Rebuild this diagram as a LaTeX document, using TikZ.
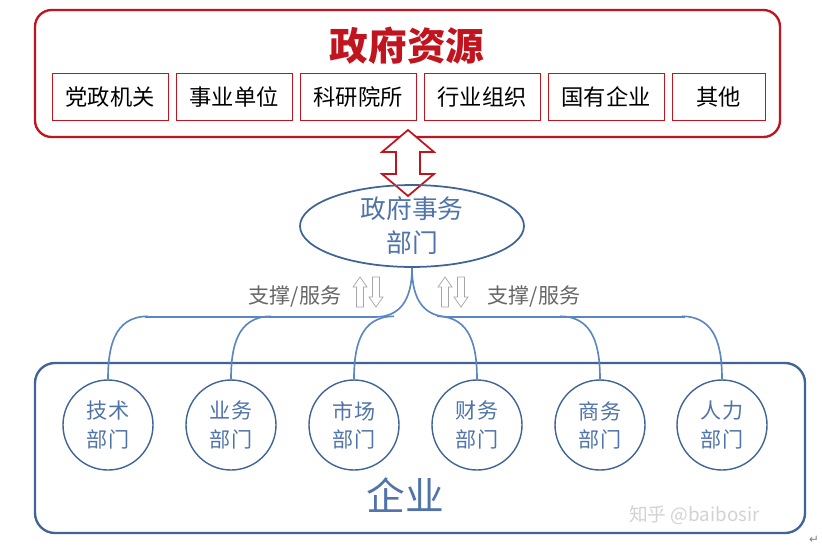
\documentclass[tikz,border=0pt]{standalone}
\usepackage{fontspec}
\setmainfont{Noto Sans CJK SC}
\newfontfamily\djv{DejaVu Sans}
\usetikzlibrary{shapes.geometric,calc}
\definecolor{rred}{RGB}{192,20,30}
\definecolor{dblue}{RGB}{65,100,150}
\definecolor{tblue}{RGB}{80,115,170}
\definecolor{lblue}{RGB}{90,135,195}
\begin{document}
\begin{tikzpicture}[x=0.03cm,y=-0.03cm,
  sbox/.style={draw=rred,line width=0.8pt,minimum height=1.4cm,inner sep=0pt,font=\fontsize{19}{19}\selectfont},
  circ/.style={circle,draw=dblue,line width=1.2pt,minimum size=2.7cm,inner sep=0pt,text=tblue,align=center,font=\fontsize{18}{24}\selectfont},
  br/.style={draw=lblue,line width=1.4pt},
  harrow/.style={draw=gray!70,line width=0.6pt,fill=white}]
\useasboundingbox (0,0) rectangle (822,549);
\draw[rred,line width=2pt,rounded corners=0.5cm] (35,10) rectangle (780,137);
\node (title) at (407,46) {\textcolor{rred}{\fontsize{33}{33}\selectfont\bfseries 政府资源}};
\foreach \n/\x/\w/\t in {b1/110/116/党政机关,b2/234/116/事业单位,b3/358/116/科研院所,b4/482/116/行业组织,b5/606/116/国有企业,b6/718.5/93/其他}
  \node[sbox,minimum width=\w*0.03cm] (\n) at (\x,97) {\t};
% big double arrow
\draw[rred,line width=1.5pt,fill=white] (408,130) -- (434,152) -- (420,152) -- (420,174) -- (434,174) -- (408,196) -- (382,174) -- (396,174) -- (396,152) -- (382,152) -- cycle;
\node[ellipse,draw=dblue,line width=1.5pt,minimum width=224*0.03cm,minimum height=80*0.03cm,align=center,text=tblue,font=\fontsize{22}{29}\selectfont,inner sep=0pt] (gov) at (412,226) {政府事务\\部门};
% bottom box
\draw[dblue,line width=2pt,rounded corners=0.6cm] (35,363) rectangle (805,533);
\node[text=tblue,font=\fontsize{33}{33}\selectfont] (ent) at (405,495) {企业};
\foreach \n/\x/\a/\b in {c1/108/技术/部门,c2/231/业务/部门,c3/354/市场/部门,c4/477/财务/部门,c5/600/商务/部门,c6/722/人力/部门}
  \node[circ] (\n) at (\x,425) {\a\\\b};
% connectors
\coordinate (hl) at (375,317); \coordinate (hr) at (450,317);
\draw[br] (gov.south) .. controls (412,300) and (400,317) .. (hl);
\draw[br] (gov.south) .. controls (412,300) and (424,317) .. (hr);
\draw[br] (145,317) -- (hl); \draw[br] (hr) -- (685,317);
\foreach \c/\s in {c1/1,c2/1,c3/1,c4/-1,c5/-1,c6/-1}{
  \draw[br] (\c.north) .. controls ($(\c.north)+(0,-30)$) and ($(\c.north)+(\s*5,-63)$) .. ($(\c.north)+(\s*40,-63)$);}
% small arrows
\foreach \x in {360,445}{
  \draw[harrow] (\x,277) -- (\x+7,287) -- (\x+3.5,287) -- (\x+3.5,307) -- (\x-3.5,307) -- (\x-3.5,287) -- (\x-7,287) -- cycle;
  \draw[harrow] (\x+16,307) -- (\x+23,297) -- (\x+19.5,297) -- (\x+19.5,277) -- (\x+12.5,277) -- (\x+12.5,297) -- (\x+9,297) -- cycle;}
\node[text=gray!80!black,font=\fontsize{18}{18}\selectfont] (l1) at (295,297) {支撑/服务};
\node[text=gray!80!black,font=\fontsize{18}{18}\selectfont] (l2) at (534,297) {支撑/服务};
\node[text=gray!35,font=\fontsize{16}{16}\selectfont,anchor=west] (wm) at (625,515) {知乎 @baibosir};
\node[text=gray,font=\djv\fontsize{10}{10}\selectfont] (ret) at (814,540) {↵};
\end{tikzpicture}
\end{document}
